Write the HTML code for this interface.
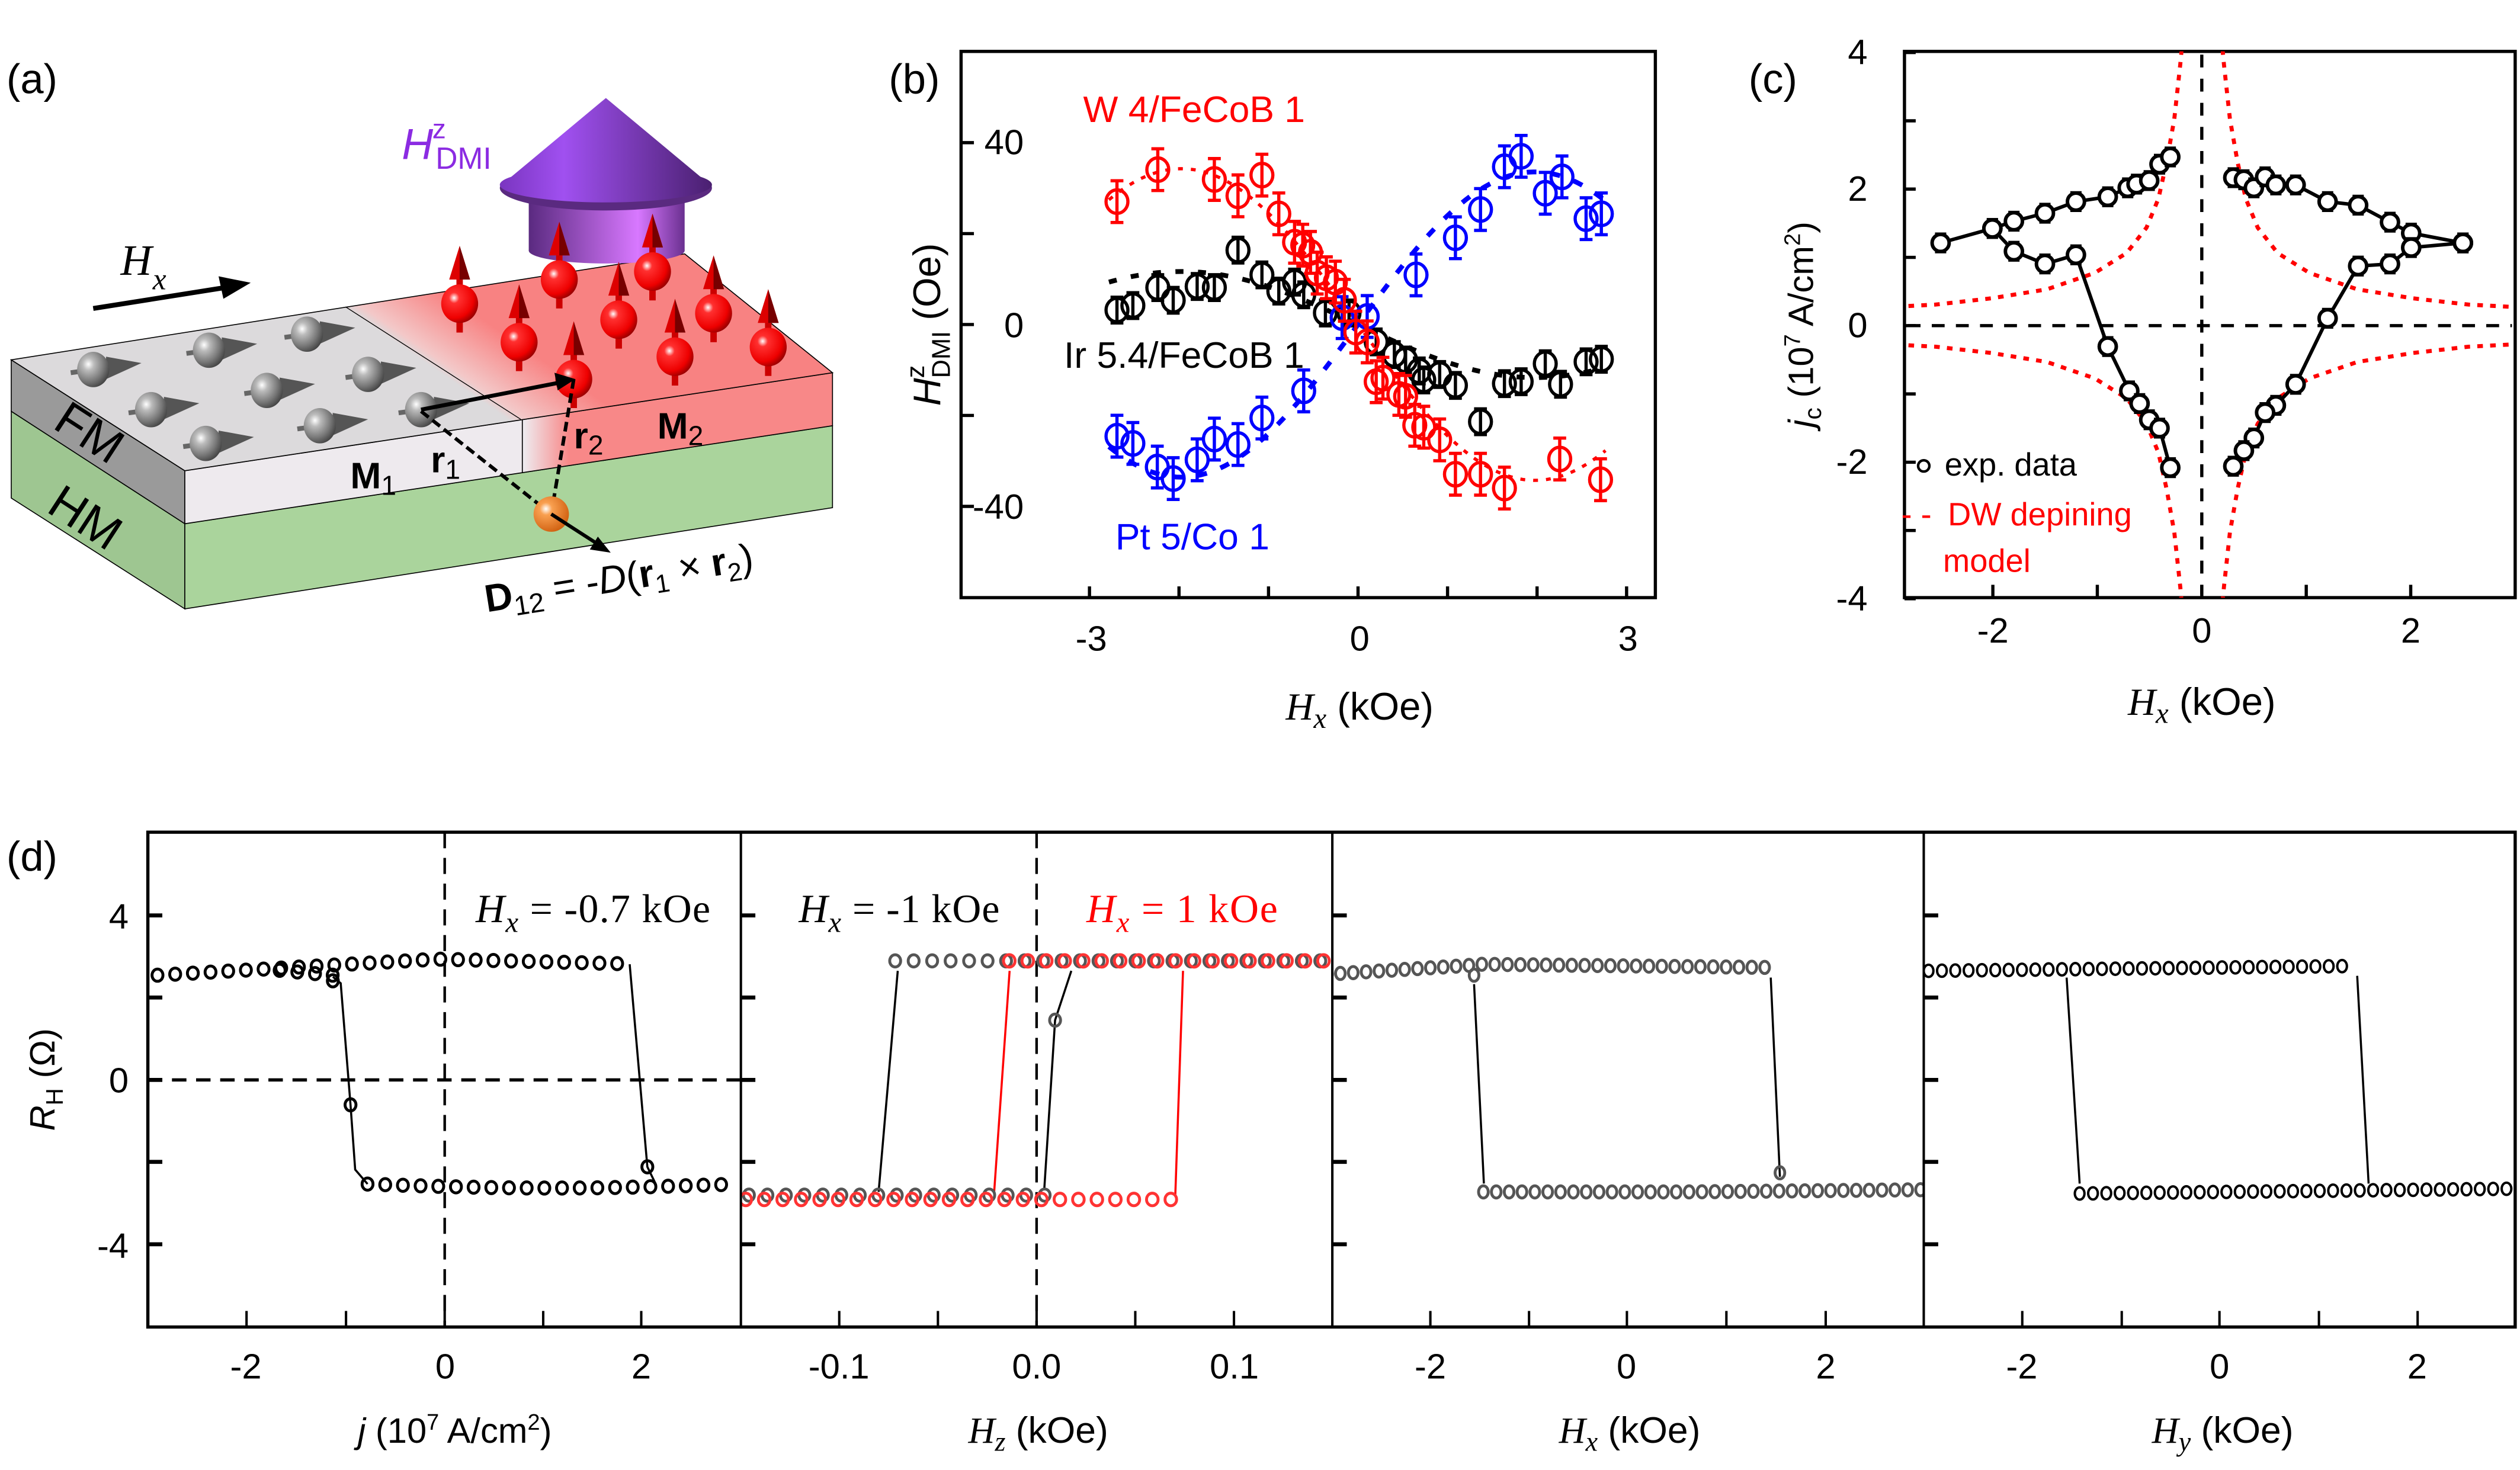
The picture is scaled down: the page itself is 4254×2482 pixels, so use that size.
<!DOCTYPE html>
<html><head><meta charset="utf-8"><style>
html,body{margin:0;padding:0;background:#fff;}
svg{display:block}
text{font-family:"Liberation Sans",sans-serif;}
.serif{font-family:"Liberation Serif",serif;}
</style></head><body>
<svg id="s" xmlns="http://www.w3.org/2000/svg" width="4254" height="2482" viewBox="0 0 1568 915" preserveAspectRatio="none">
<defs>
<radialGradient id="gs" cx="0.35" cy="0.35" r="0.7"><stop offset="0" stop-color="#fff"/><stop offset="0.25" stop-color="#bbb"/><stop offset="0.7" stop-color="#777"/><stop offset="1" stop-color="#444"/></radialGradient>
<radialGradient id="rs" cx="0.35" cy="0.35" r="0.7"><stop offset="0" stop-color="#fff"/><stop offset="0.2" stop-color="#ff3030"/><stop offset="0.75" stop-color="#e00"/><stop offset="1" stop-color="#900"/></radialGradient>
<radialGradient id="os" cx="0.35" cy="0.35" r="0.7"><stop offset="0" stop-color="#fff"/><stop offset="0.25" stop-color="#f9a050"/><stop offset="1" stop-color="#d06010"/></radialGradient>
<linearGradient id="cone" x1="0" x2="1" y1="0" y2="0"><stop offset="0" stop-color="#7a35c0"/><stop offset="0.3" stop-color="#a050f0"/><stop offset="1" stop-color="#4a2070"/></linearGradient>
<linearGradient id="cyl" x1="0" x2="1" y1="0" y2="0"><stop offset="0" stop-color="#5a2a80"/><stop offset="0.7" stop-color="#d878ff"/><stop offset="1" stop-color="#6a3090"/></linearGradient>
<linearGradient id="topg" gradientUnits="userSpaceOnUse" x1="268" y1="228" x2="292" y2="193"><stop offset="0" stop-color="#dcdadc"/><stop offset="0.15" stop-color="#f3c8c8"/><stop offset="1" stop-color="#f88282"/></linearGradient>
<linearGradient id="frontg" gradientUnits="userSpaceOnUse" x1="326" y1="0" x2="354" y2="0"><stop offset="0" stop-color="#eeeaee"/><stop offset="1" stop-color="#f88888"/></linearGradient>
<clipPath id="cb"><rect x="598" y="32" width="432" height="340"/></clipPath>
<clipPath id="cc"><rect x="1185" y="32" width="380" height="340"/></clipPath>
<clipPath id="d1"><rect x="92" y="518" width="369" height="308"/></clipPath>
<clipPath id="d2"><rect x="461" y="518" width="368" height="308"/></clipPath>
<clipPath id="d3"><rect x="829" y="518" width="368" height="308"/></clipPath>
<clipPath id="d4"><rect x="1197" y="518" width="368" height="308"/></clipPath>
</defs>

<!-- Panel (a) -->
<text x="4" y="58" font-size="26">(a)</text>
<polygon points="7,256 115,326 115,379 7,310" fill="#9ec691" stroke="#000" stroke-width="0.6"/>
<polygon points="115,326 518,265 518,316 115,379" fill="#aad49c" stroke="#000" stroke-width="0.6"/>
<polygon points="7,224 115,293 115,326 7,256" fill="#9a9a9a" stroke="#000" stroke-width="0.6"/>
<polygon points="115,293 518,232 518,265 115,326" fill="url(#frontg)" stroke="#000" stroke-width="0.6"/>
<line x1="325" y1="261" x2="325" y2="294" stroke="#000" stroke-width="0.6"/>
<polygon points="7,224 426,158 518,232 115,293" fill="url(#topg)" stroke="#000" stroke-width="0.6"/>
<line x1="215" y1="191" x2="324" y2="261" stroke="#000" stroke-width="0.5"/>
<g id="spinsA"></g>
<rect x="329" y="126" width="97" height="30" fill="url(#cyl)"/>
<ellipse cx="377.5" cy="156" rx="48.5" ry="8" fill="url(#cyl)"/>
<ellipse cx="377" cy="117" rx="66" ry="14" fill="#5a2a80"/>
<polygon points="377,61 311,116 443,116" fill="url(#cone)"/>
<ellipse cx="377" cy="115" rx="66" ry="11" fill="url(#cone)"/>
<text x="250" y="99" font-size="27" fill="#8b2be2" font-style="italic">H</text>
<text x="269" y="86" font-size="17" fill="#8b2be2">z</text>
<text x="271" y="105" font-size="19" fill="#8b2be2">DMI</text>
<text x="75" y="171" font-size="27" class="serif" font-style="italic">H</text>
<text x="95" y="180" font-size="19" class="serif" font-style="italic">x</text>
<line x1="58" y1="192" x2="140" y2="179" stroke="#000" stroke-width="3"/>
<polygon points="156,176 136,172 139,186" fill="#000"/>
<text x="32" y="266" font-size="30" transform="rotate(33 32 266)">FM</text>
<text x="28" y="318" font-size="30" transform="rotate(33 28 318)">HM</text>
<g id="spinsB"></g>
<line x1="262" y1="256" x2="343" y2="320" stroke="#000" stroke-width="2.2" stroke-dasharray="6,3"/>
<line x1="357" y1="236" x2="343" y2="320" stroke="#000" stroke-width="2.2" stroke-dasharray="6,3"/>
<ellipse cx="343" cy="320" rx="11" ry="11" fill="url(#os)"/>
<line x1="343" y1="320" x2="374" y2="340" stroke="#000" stroke-width="2.2"/>
<polygon points="380,344 367,342 372,334" fill="#000"/>
<line x1="262" y1="255" x2="349" y2="238" stroke="#000" stroke-width="2.5"/>
<polygon points="358,236 345,232 347,243" fill="#000"/>
<text x="218" y="304" font-size="23" font-weight="bold">M<tspan font-size="17" font-weight="normal" dy="4">1</tspan></text>
<text x="268" y="294" font-size="23" font-weight="bold">r<tspan font-size="17" font-weight="normal" dy="4">1</tspan></text>
<text x="357" y="279" font-size="23" font-weight="bold">r<tspan font-size="17" font-weight="normal" dy="4">2</tspan></text>
<text x="409" y="273" font-size="23" font-weight="bold">M<tspan font-size="17" font-weight="normal" dy="4">2</tspan></text>
<text x="303" y="381" font-size="24" transform="rotate(-9 303 381)"><tspan font-weight="bold">D</tspan><tspan font-size="17" dy="5">12</tspan><tspan dy="-5"> = -</tspan><tspan font-style="italic">D</tspan>(<tspan font-weight="bold">r</tspan><tspan font-size="16" dy="5">1</tspan><tspan dy="-5"> × </tspan><tspan font-weight="bold">r</tspan><tspan font-size="16" dy="5">2</tspan><tspan dy="-5">)</tspan></text>

<!-- Panel (b) -->
<text x="553" y="58" font-size="26">(b)</text>
<rect x="598" y="32" width="432" height="340" fill="none" stroke="#000" stroke-width="2"/>
<g id="tb"></g>
<g clip-path="url(#cb)" id="db"></g>
<text x="637" y="96" font-size="22" text-anchor="end">40</text>
<text x="637" y="210" font-size="22" text-anchor="end">0</text>
<text x="637" y="323" font-size="22" text-anchor="end">-40</text>
<text x="679" y="405" font-size="22" text-anchor="middle">-3</text>
<text x="846" y="405" font-size="22" text-anchor="middle">0</text>
<text x="1013" y="405" font-size="22" text-anchor="middle">3</text>
<text x="674" y="76" font-size="23" fill="#f00">W 4/FeCoB 1</text>
<text x="662" y="229" font-size="23" fill="#000">Ir 5.4/FeCoB 1</text>
<text x="694" y="342" font-size="23" fill="#00f">Pt 5/Co 1</text>
<text transform="translate(585 202) rotate(-90)" font-size="24" text-anchor="middle"><tspan font-style="italic">H</tspan><tspan font-size="16" dy="-10">z</tspan><tspan font-size="16" dx="-8" dy="16">DMI</tspan><tspan dy="-6"> (Oe)</tspan></text>
<text x="846" y="448" font-size="24" text-anchor="middle"><tspan font-style="italic" class="serif">H</tspan><tspan font-style="italic" class="serif" font-size="18" dy="5">x</tspan><tspan dy="-5"> (kOe)</tspan></text>

<!-- Panel (c) -->
<text x="1088" y="58" font-size="26">(c)</text>
<rect x="1185" y="32" width="380" height="340" fill="none" stroke="#000" stroke-width="2"/>
<g id="tc"></g>
<line x1="1370" y1="34" x2="1370" y2="370" stroke="#000" stroke-width="2" stroke-dasharray="8,7"/>
<line x1="1187" y1="202.7" x2="1563" y2="202.7" stroke="#000" stroke-width="2" stroke-dasharray="8,7"/>
<g clip-path="url(#cc)" id="dc"></g>
<text x="1162" y="40" font-size="22" text-anchor="end">4</text>
<text x="1162" y="125" font-size="22" text-anchor="end">2</text>
<text x="1162" y="210" font-size="22" text-anchor="end">0</text>
<text x="1162" y="295" font-size="22" text-anchor="end">-2</text>
<text x="1162" y="380" font-size="22" text-anchor="end">-4</text>
<text x="1240" y="400" font-size="22" text-anchor="middle">-2</text>
<text x="1370" y="400" font-size="22" text-anchor="middle">0</text>
<text x="1500" y="400" font-size="22" text-anchor="middle">2</text>
<circle cx="1197" cy="290" r="3.5" fill="#fff" stroke="#000" stroke-width="1.6"/>
<text x="1210" y="296" font-size="20">exp. data</text>
<text x="1183" y="327" font-size="20" fill="#f00">- -</text>
<text x="1212" y="327" font-size="20" fill="#f00">DW depining</text>
<text x="1209" y="356" font-size="20" fill="#f00">model</text>
<text transform="translate(1128 202) rotate(-90)" font-size="22" text-anchor="middle"><tspan font-style="italic">j</tspan><tspan font-size="15" dy="5">c</tspan><tspan dy="-5"> (10</tspan><tspan font-size="14" dy="-8">7</tspan><tspan dy="8"> A/cm</tspan><tspan font-size="14" dy="-8">2</tspan><tspan dy="8">)</tspan></text>
<text x="1370" y="445" font-size="24" text-anchor="middle"><tspan font-style="italic" class="serif">H</tspan><tspan font-style="italic" class="serif" font-size="18" dy="5">x</tspan><tspan dy="-5"> (kOe)</tspan></text>

<!-- Panel (d) -->
<text x="4" y="542" font-size="26">(d)</text>
<g id="dd"></g>
<rect x="92" y="518" width="1473" height="308" fill="none" stroke="#000" stroke-width="2"/>
<line x1="461" y1="518" x2="461" y2="826" stroke="#000" stroke-width="1.5"/>
<line x1="829" y1="518" x2="829" y2="826" stroke="#000" stroke-width="1.5"/>
<line x1="1197" y1="518" x2="1197" y2="826" stroke="#000" stroke-width="1.5"/>
<text x="80" y="578" font-size="22" text-anchor="end">4</text>
<text x="80" y="680" font-size="22" text-anchor="end">0</text>
<text x="80" y="783" font-size="22" text-anchor="end">-4</text>
<text transform="translate(34 672) rotate(-90)" font-size="22" text-anchor="middle"><tspan font-style="italic">R</tspan><tspan font-size="15" dy="5">H</tspan><tspan dy="-5"> (Ω)</tspan></text>
<text x="296" y="574" font-size="25" class="serif" textLength="146"><tspan font-style="italic">H</tspan><tspan font-style="italic" font-size="18" dy="6">x</tspan><tspan dy="-6"> = -0.7 kOe</tspan></text>
<text x="497" y="574" font-size="25" class="serif" textLength="125"><tspan font-style="italic">H</tspan><tspan font-style="italic" font-size="18" dy="6">x</tspan><tspan dy="-6"> = -1 kOe</tspan></text>
<text x="676" y="574" font-size="25" class="serif" fill="#f00" textLength="119"><tspan font-style="italic">H</tspan><tspan font-style="italic" font-size="18" dy="6">x</tspan><tspan dy="-6"> = 1 kOe</tspan></text>
<g font-size="22" text-anchor="middle">
<text x="153" y="858">-2</text><text x="277" y="858">0</text><text x="399" y="858">2</text>
<text x="522" y="858">-0.1</text><text x="645" y="858">0.0</text><text x="768" y="858">0.1</text>
<text x="890" y="858">-2</text><text x="1012" y="858">0</text><text x="1136" y="858">2</text>
<text x="1258" y="858">-2</text><text x="1381" y="858">0</text><text x="1504" y="858">2</text>
</g>
<text x="283" y="898" font-size="22" text-anchor="middle"><tspan font-style="italic">j</tspan> (10<tspan font-size="14" dy="-8">7</tspan><tspan dy="8"> A/cm</tspan><tspan font-size="14" dy="-8">2</tspan><tspan dy="8">)</tspan></text>
<text x="646" y="898" font-size="23" text-anchor="middle"><tspan font-style="italic" class="serif">H</tspan><tspan font-style="italic" class="serif" font-size="17" dy="5">z</tspan><tspan dy="-5"> (kOe)</tspan></text>
<text x="1014" y="898" font-size="23" text-anchor="middle"><tspan font-style="italic" class="serif">H</tspan><tspan font-style="italic" class="serif" font-size="17" dy="5">x</tspan><tspan dy="-5"> (kOe)</tspan></text>
<text x="1383" y="898" font-size="23" text-anchor="middle"><tspan font-style="italic" class="serif">H</tspan><tspan font-style="italic" class="serif" font-size="17" dy="5">y</tspan><tspan dy="-5"> (kOe)</tspan></text>
</svg>
<script>
var NS="http://www.w3.org/2000/svg";
function el(p,t,a){var e=document.createElementNS(NS,t);for(var k in a)e.setAttribute(k,a[k]);p.appendChild(e);return e;}
function g(id){return document.getElementById(id);}
function pl(p,pts,col,w,dash){var a={points:pts.map(function(q){return q.join(',')}).join(' '),fill:'none',stroke:col,'stroke-width':w};if(dash)a['stroke-dasharray']=dash;el(p,'polyline',a);}
var A=g('spinsA');
[[58,230],[130,218],[191,208],[94,255],[166,243],[229,233],[128,276],[199,265],[262,255]].forEach(function(s){
 var x=s[0],y=s[1];
 el(A,'line',{x1:x-14,y1:y+2,x2:x+8,y2:y-1,stroke:'#666','stroke-width':3});
 el(A,'polygon',{points:(x+8)+','+(y-8)+' '+(x+8)+','+(y+6)+' '+(x+30)+','+(y-4),fill:'#555'});
 el(A,'ellipse',{cx:x,cy:y,rx:10,ry:11,fill:'url(#gs)'});
});
var B=g('spinsB');
[[348,174],[406,169],[286,189],[385,199],[444,195],[323,213],[478,216],[420,222],[357,236]].forEach(function(s){
 var x=s[0],y=s[1];
 el(B,'rect',{x:x-2,y:y-16,width:4,height:34,fill:'#c00'});
 el(B,'ellipse',{cx:x,cy:y,rx:11.5,ry:12,fill:'url(#rs)'});
 el(B,'polygon',{points:(x-6.5)+','+(y-15)+' '+(x+6.5)+','+(y-15)+' '+x+','+(y-36),fill:'#d00'});
 el(B,'polygon',{points:x+','+(y-15)+' '+(x+6.5)+','+(y-15)+' '+x+','+(y-36),fill:'#700'});
});
var TB=g('tb');
for(var i=-3;i<=3;i++){var x=845+55.7*i;el(TB,'line',{x1:x,y1:372,x2:x,y2:365,stroke:'#000','stroke-width':2});}
for(var v=-40;v<=40;v+=20){var y=202-v*2.83;el(TB,'line',{x1:598,y1:y,x2:606,y2:y,stroke:'#000','stroke-width':2});}
var DB=g('db');
function sinc(amp,sign){var p=[];for(var x=690;x<=1000;x+=3){p.push([x,202+sign*amp*Math.sin(Math.PI*(x-845)/220)]);}return p;}
pl(DB,sinc(97,1),'#f00',2,'3,5');
pl(DB,sinc(95,-1),'#00f',3,'6,9');
pl(DB,sinc(33,1),'#000',3,'5,9');
function series(p,pts,col,eb){pts.forEach(function(q){var x=q[0],y=q[1];
 el(p,'line',{x1:x,y1:y-eb,x2:x,y2:y+eb,stroke:col,'stroke-width':2});
 el(p,'line',{x1:x-4,y1:y-eb,x2:x+4,y2:y-eb,stroke:col,'stroke-width':2});
 el(p,'line',{x1:x-4,y1:y+eb,x2:x+4,y2:y+eb,stroke:col,'stroke-width':2});
 el(p,'ellipse',{cx:x,cy:y,rx:6.8,ry:7.3,fill:'none',stroke:col,'stroke-width':2});});}
series(DB,[[695,193],[704.9,190.2],[720.4,179],[730,186.9],[744.9,178.3],[755.6,179],[770.3,155.7],[785.2,171.1],[795.7,181.2],[805.5,175.6],[811.2,183.5],[824.7,194.8],[839.4,194.8],[856.3,212.8],[867.6,220.7],[874.6,224.1],[883.1,230.9],[885.9,236.5],[895.8,233.1],[905.6,239.9],[921.2,262.5],[936.1,238.8],[946.5,237.6],[961.5,226.4],[971,239.2],[986.9,225.2],[996.4,223.6]],'#000',8);
series(DB,[[695,271.5],[704.9,276],[720.1,290.7],[730,297.9],[744.9,286.2],[755.6,273.3],[770.3,276.7],[785.2,260.2],[811.2,243.3],[835.1,197.7],[850.7,197],[881.1,171.1],[905.6,148],[921.2,130.4],[936.1,103.8],[946.5,97.3],[961.5,120.3],[971.9,110.1],[986.9,136.1],[996.4,133.1]],'#00f',13);
series(DB,[[695,125.5],[720.4,105.6],[755.6,111.7],[770.3,121.9],[785.2,109],[795.7,133.1],[805.5,150.8],[810.6,152.6],[815.4,157.1],[819.6,170],[825.3,172.9],[830.9,175.6],[836.5,186.9],[843.6,206.7],[850.7,212.8],[856.3,237.6],[860.5,235.4],[870.4,245.5],[874.6,246.7],[880.3,264.7],[885.9,265.9],[895.8,273.8],[905.6,295.2],[921.2,295.2],[936.1,303.8],[970.5,285.7],[995.9,298.6]],'#f00',13);
var TC=g('tc');
for(var i=-2;i<=2;i++){var x=1370+65*i;el(TC,'line',{x1:x,y1:372,x2:x,y2:364,stroke:'#000','stroke-width':2});}
for(var v=-4;v<=4;v++){var y=202.7-v*42.5;el(TC,'line',{x1:1185,y1:y,x2:1192,y2:y,stroke:'#000','stroke-width':2});}
var DC=g('dc');
var ul=[[1179.5,190.9],[1204.3,189.6],[1239,185.7],[1273.6,180.1],[1303.4,169.9],[1323.2,157.5],[1335.6,141.7],[1343,123.7],[1348.1,101.1],[1352.9,74],[1356.6,40.2],[1358,25]];
[[1,1],[-1,1],[1,-1],[-1,-1]].forEach(function(m){pl(DC,ul.map(function(q){return [m[0]>0?q[0]:2740.4-q[0], m[1]>0?q[1]:405.4-q[1]];}),'#f00',2.5,'3.5,4.5');});
var LU=[[1207.5,151.2],[1239.7,142.2],[1253.1,137.7],[1272.4,132.7],[1291.7,125.5],[1311.5,122.5],[1323.9,116.9],[1329.4,114.6],[1337.3,112.4],[1343.7,102.2],[1350.4,97.7]];
var LL=[[1239.7,142.2],[1253.1,156.4],[1272.4,164.3],[1291.7,158.6],[1311.5,215.7],[1324.9,243.3],[1331.3,251.2],[1337.3,261.3],[1343.7,266.5],[1350.4,291.1]];
var RU=[[1389.6,110.6],[1396.2,111.9],[1402.4,116.9],[1409.4,110.1],[1416.1,115.1],[1428.4,115.1],[1448.3,125.5],[1467.3,127.7],[1487.1,138.3],[1500.3,145.1],[1532.5,151.2]];
var RL=[[1532.5,151.2],[1500.3,154.1],[1487.1,164.3],[1467.3,165.6],[1448.3,198.1],[1428.4,239.2],[1416.1,252.3],[1409.4,256.8],[1402.4,272.6],[1396.2,280.5],[1389.6,290.2]];
[LU,LL,RU,RL].forEach(function(s){pl(DC,s,'#000',2.2);});
[LU,LL,RU,RL].forEach(function(s){s.forEach(function(q){
 el(DC,'line',{x1:q[0]-3.5,y1:q[1]-5.5,x2:q[0]+3.5,y2:q[1]-5.5,stroke:'#000','stroke-width':2});
 el(DC,'line',{x1:q[0]-3.5,y1:q[1]+5.5,x2:q[0]+3.5,y2:q[1]+5.5,stroke:'#000','stroke-width':2});
 el(DC,'circle',{cx:q[0],cy:q[1],r:5.3,fill:'#fff',stroke:'#000','stroke-width':2.2});});});
var DD=g('dd');
var yt=[569.8,620.9,672.2,723.2,774.5];
[92,461,829,1197].forEach(function(x0){yt.forEach(function(y){el(DD,'line',{x1:x0,y1:y,x2:x0+9,y2:y,stroke:'#000','stroke-width':2.5});});});
[[153.4,215.3,276.7,338,399],[522.2,583.6,645,706.4,767.8],[890,951.4,1012.3,1074.2,1136],[1258.3,1320.2,1381,1442.9,1504.3]].forEach(function(a){a.forEach(function(x){el(DD,'line',{x1:x,y1:826,x2:x,y2:816,stroke:'#000','stroke-width':1.5});});});
var P1=el(DD,'g',{'clip-path':'url(#d1)'}),P2=el(DD,'g',{'clip-path':'url(#d2)'}),P3=el(DD,'g',{'clip-path':'url(#d3)'}),P4=el(DD,'g',{'clip-path':'url(#d4)'});
el(P1,'line',{x1:276.7,y1:518,x2:276.7,y2:826,stroke:'#000','stroke-width':1.6,'stroke-dasharray':'10,6'});
el(P1,'line',{x1:92,y1:672.2,x2:461,y2:672.2,stroke:'#000','stroke-width':2,'stroke-dasharray':'9,6'});
el(P2,'line',{x1:645,y1:518,x2:645,y2:826,stroke:'#000','stroke-width':1.6,'stroke-dasharray':'10,6'});
function circs(p,pts,col,rx,ry,w){pts.forEach(function(q){el(p,'ellipse',{cx:q[0],cy:q[1],rx:rx,ry:ry,fill:'none',stroke:col,'stroke-width':w||1.8});});}
function rng(a,b,st,f){var r=[];for(var x=a;x<=b+0.01;x+=st)r.push([x,f(x)]);return r;}
pl(P1,[[391.8,600.2],[402.8,726.3],[408,737]],'#000',1.3);
pl(P1,[[228.7,737],[221,728],[218.1,687.7],[212,612],[207.1,608]],'#000',1.3);
circs(P1,rng(98,392,11,function(x){return x<272?607-(x-98)/174*10:597+(x-272)/120*3;}),'#000',3.4,3.8);
circs(P1,rng(174,207,11,function(x){return 604+(x-174)/33*3;}),'#000',3.4,3.8);
circs(P1,[[207.1,610.5],[218.1,687.7]],'#000',3.4,3.8);
circs(P1,rng(228.7,459,11,function(x){return 737+2.5*Math.sin((x-228)/231*Math.PI);}),'#000',3.4,3.8);
circs(P1,[[402.8,726.3]],'#000',3.4,3.8);
pl(P2,[[546.7,741.9],[558.6,604.3]],'#000',1.3);
pl(P2,[[649.8,739.8],[656.5,635],[666.6,604.3]],'#000',1.3);
pl(P2,[[618.6,741.9],[628.2,604.3]],'#f00',1.3);
pl(P2,[[731.3,743.9],[736.1,604.3]],'#f00',1.3);
circs(P2,rng(466,650,11.5,function(){return 743.9;}),'#555',3.4,3.8);
circs(P2,rng(557,829,11.5,function(){return 598.1;}),'#555',3.4,3.8);
circs(P2,[[656.5,635]],'#555',3.4,3.8);
circs(P2,rng(464,731,11.5,function(){return 746.6;}),'#f33',3.6,3.9);
circs(P2,rng(628,829,11.5,function(){return 598.1;}),'#f33',3.6,3.9);
pl(P3,[[917.2,612.6],[923.3,736.7]],'#000',1.3);
pl(P3,[[1101.8,608.5],[1107.5,732.5]],'#000',1.3);
circs(P3,rng(826,1102,8,function(x){return x<922?606.4-(x-826)/96*6:600.2+(x-922)/180*2;}),'#555',3,3.8);
circs(P3,rng(923,1564,8,function(x){return x<1050?741.9:741.9-(x-1050)/514*4.8;}),'#555',3,3.8);
circs(P3,[[917.2,607],[1107.5,730]],'#555',3,3.8);
pl(P4,[[1285.9,608.5],[1294,736.7]],'#000',1.3);
pl(P4,[[1466.7,607.4],[1473.8,736.7]],'#000',1.3);
circs(P4,rng(1200,1464,8.3,function(x){return 604.3-(x-1200)/264*3;}),'#000',3,3.8,1.5);
circs(P4,rng(1294,1564,8.3,function(x){return 742.9-(x-1294)/270*3;}),'#000',3,3.8,1.5);
</script>
</body></html>
